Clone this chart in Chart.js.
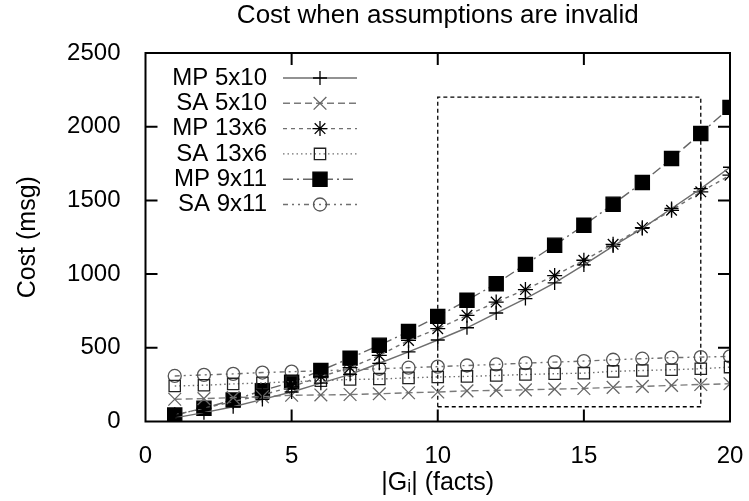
<!DOCTYPE html>
<html>
<head>
<meta charset="utf-8">
<script src="https://cdn.jsdelivr.net/npm/chart.js@4/dist/chart.umd.min.js"></script>
<style>
  html, body { margin: 0; padding: 0; background: #fff; }
  #wrap { width: 749px; height: 501px; }
</style>
</head>
<body>
<div id="wrap"><canvas id="c" width="749" height="501"></canvas></div>
<script>
// ---- data ----
const facts = [1, 2, 3, 4, 5, 6, 7, 8, 9, 10, 11, 12, 13, 14, 15, 16, 17, 18, 19, 20];
const seriesNames = ['MP 5x10', 'SA 5x10', 'MP 13x6', 'SA 13x6', 'MP 9x11', 'SA 9x11'];
const mp5x10 = [25, 60, 100, 150, 200, 260, 320, 395, 472, 553, 636, 736, 834, 940, 1062, 1190, 1310, 1445, 1580, 1725];
const sa5x10 = [151, 155, 162, 168, 178, 180, 183, 188, 195, 200, 208, 211, 215, 220, 224, 232, 238, 245, 251, 256];
const mp13x6 = [45, 90, 135, 180, 235, 305, 365, 448, 550, 630, 720, 810, 895, 990, 1094, 1202, 1315, 1433, 1558, 1671];
const sa13x6 = [241, 246, 255, 262, 270, 277, 285, 288, 296, 302, 306, 312, 319, 324, 328, 340, 346, 351, 358, 369];
const mp9x11 = [44, 90, 146, 209, 267, 346, 430, 517, 610, 713, 822, 935, 1066, 1196, 1331, 1474, 1621, 1784, 1954, 2131];
const sa9x11 = [309, 316, 323, 332, 338, 344, 351, 358, 365, 372, 380, 387, 396, 403, 410, 419, 426, 433, 437, 442];
// dashed highlight box (x range, y range)
const boxX = [10, 19];
const boxY = [100, 2200];
const xTicks = [0, 5, 10, 15, 20];
const yTicks = [0, 500, 1000, 1500, 2000, 2500];

const FONT = "'Liberation Sans', Arial, Helvetica, sans-serif";

function pts(vals) { return facts.map((x, i) => ({ x: x, y: vals[i] })); }
function boxPts() {
  return [
    { x: boxX[0], y: boxY[0] }, { x: boxX[1], y: boxY[0] },
    { x: boxX[1], y: boxY[1] }, { x: boxX[0], y: boxY[1] },
    { x: boxX[0], y: boxY[0] }
  ];
}

const styles = [
  { line: '#6e6e6e', dash: [], shape: 'cross', r: 7, pc: '#000', fill: 'rgba(0,0,0,0)' },
  { line: '#7a7a7a', dash: [7, 4], shape: 'crossRot', r: 9, pc: '#666', fill: 'rgba(0,0,0,0)' },
  { line: '#707070', dash: [4, 4], shape: 'star', r: 7.5, pc: '#000', fill: 'rgba(0,0,0,0)' },
  { line: '#707070', dash: [1.5, 3], shape: 'rect', r: 8, pc: '#222', fill: 'rgba(0,0,0,0)' },
  { line: '#666', dash: [10, 4, 2, 4], shape: 'rect', r: 10, pc: '#000', fill: '#000' },
  { line: '#707070', dash: [5, 4, 2, 4, 2, 4], shape: 'circle', r: 6.5, pc: '#555', fill: 'rgba(0,0,0,0)' }
];
const values = [mp5x10, sa5x10, mp13x6, sa13x6, mp9x11, sa9x11];

const datasets = values.map((v, i) => ({
  label: seriesNames[i],
  data: pts(v),
  borderColor: styles[i].line,
  borderWidth: 1.4,
  borderDash: styles[i].dash,
  pointStyle: styles[i].shape,
  pointRadius: styles[i].r,
  pointHoverRadius: styles[i].r,
  pointBorderColor: styles[i].pc,
  pointBackgroundColor: styles[i].fill,
  pointBorderWidth: 1.3,
  tension: 0,
  fill: false,
  inLegend: true
}));
datasets.push({
  label: 'box',
  data: boxPts(),
  borderColor: '#000',
  borderWidth: 1.3,
  borderDash: [4, 3],
  pointRadius: 0,
  tension: 0,
  fill: false,
  inLegend: false
});

// frame + inward mirrored ticks (gnuplot style)
const framePlugin = {
  id: 'frame',
  afterDatasetsDraw(chart) {
    const { ctx, chartArea: a, scales } = chart;
    ctx.save();
    ctx.setLineDash([]);
    ctx.strokeStyle = '#000';
    ctx.lineWidth = 2;
    ctx.strokeRect(a.left, a.top, a.right - a.left, a.bottom - a.top);
    const tl = 12;
    ctx.beginPath();
    xTicks.forEach(v => {
      if (v === xTicks[0] || v === xTicks[xTicks.length - 1]) return;
      const px = scales.x.getPixelForValue(v);
      ctx.moveTo(px, a.bottom); ctx.lineTo(px, a.bottom - tl);
      ctx.moveTo(px, a.top); ctx.lineTo(px, a.top + tl);
    });
    yTicks.forEach(v => {
      if (v === yTicks[0] || v === yTicks[yTicks.length - 1]) return;
      const py = scales.y.getPixelForValue(v);
      ctx.moveTo(a.left, py); ctx.lineTo(a.left + tl, py);
      ctx.moveTo(a.right, py); ctx.lineTo(a.right - tl, py);
    });
    ctx.stroke();
    ctx.restore();
  }
};

// gnuplot-like key: right-aligned text, then line sample with marker
const keyPlugin = {
  id: 'gnukey',
  afterDraw(chart) {
    const { ctx } = chart;
    const textRight = 267, lineL = 283, lineR = 357, markX = 320;
    const y0 = 78, dy = 25.3;
    ctx.save();
    ctx.font = '24px ' + FONT;
    ctx.textAlign = 'right';
    ctx.textBaseline = 'middle';
    let row = 0;
    chart.data.datasets.forEach(ds => {
      if (!ds.inLegend) return;
      const y = y0 + row * dy;
      ctx.fillStyle = '#000';
      ctx.fillText(ds.label, textRight, y);
      ctx.strokeStyle = ds.borderColor;
      ctx.lineWidth = ds.borderWidth;
      ctx.setLineDash(ds.borderDash || []);
      ctx.beginPath();
      ctx.moveTo(lineL, y); ctx.lineTo(lineR, y);
      ctx.stroke();
      ctx.setLineDash([]);
      ctx.strokeStyle = ds.pointBorderColor;
      ctx.fillStyle = ds.pointBackgroundColor;
      ctx.lineWidth = ds.pointBorderWidth;
      if (Chart.helpers && Chart.helpers.drawPoint) {
        Chart.helpers.drawPoint(ctx, { pointStyle: ds.pointStyle, radius: ds.pointRadius, rotation: 0, borderWidth: ds.pointBorderWidth }, markX, y);
      }
      row++;
    });
    ctx.restore();
  }
};

function noPad(scale) {
  scale.paddingLeft = 0; scale.paddingRight = 0;
  scale.paddingTop = 0; scale.paddingBottom = 0;
}

new Chart(document.getElementById('c'), {
  type: 'line',
  data: { datasets: datasets },
  options: {
    responsive: false,
    animation: false,
    devicePixelRatio: 1,
    layout: { padding: { left: 0, right: 19, top: 0, bottom: 0 } },
    plugins: {
      legend: { display: false },
      tooltip: { enabled: false },
      title: {
        display: true,
        fullSize: false,
        text: 'Cost when assumptions are invalid',
        color: '#000',
        font: { family: FONT, size: 26, weight: 'normal' },
        padding: { top: 0, bottom: 21.8 }
      }
    },
    scales: {
      x: {
        type: 'linear',
        min: 0, max: 20,
        afterBuildTicks(scale) { scale.ticks = xTicks.map(v => ({ value: v })); },
        afterFit(scale) { scale.height = 79.5; noPad(scale); },
        grid: { display: false },
        border: { display: false },
        ticks: { color: '#000', padding: 12, font: { family: FONT, size: 24 }, maxRotation: 0,
                 callback: v => String(v) },
        title: {
          display: true,
          text: '|G\u1d62| (facts)',
          color: '#000',
          font: { family: FONT, size: 25 },
          padding: { top: 0, bottom: 3 }
        }
      },
      y: {
        type: 'linear',
        min: 0, max: 2500,
        afterBuildTicks(scale) { scale.ticks = yTicks.map(v => ({ value: v })); },
        afterFit(scale) { scale.width = 145.5; noPad(scale); },
        grid: { display: false },
        border: { display: false },
        ticks: { color: '#000', padding: 17, font: { family: FONT, size: 24 },
                 callback: v => String(v) },
        title: {
          display: true,
          text: 'Cost (msg)',
          color: '#000',
          font: { family: FONT, size: 25 },
          padding: { top: 13, bottom: 0 }
        }
      }
    }
  },
  plugins: [framePlugin, keyPlugin]
});
</script>
</body>
</html>
